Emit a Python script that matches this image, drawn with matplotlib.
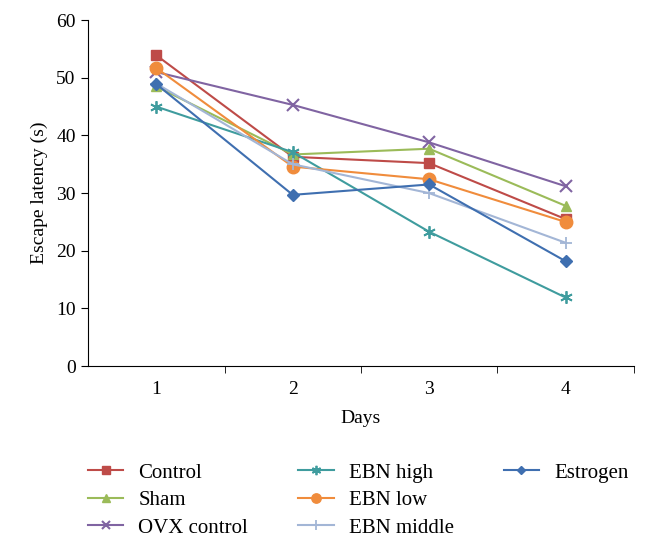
import matplotlib.pyplot as plt
from matplotlib.lines import Line2D

days = [1, 2, 3, 4]
series_names = ['Control', 'Sham', 'OVX control', 'EBN high', 'EBN low', 'EBN middle', 'Estrogen']
control = [53.9, 36.3, 35.2, 25.5]
sham = [48.5, 36.7, 37.7, 27.8]
ovx_control = [51.0, 45.3, 38.8, 31.2]
ebn_high = [45.0, 37.1, 23.3, 11.9]
ebn_low = [51.7, 34.6, 32.4, 25.0]
ebn_middle = [49.0, 35.0, 30.0, 21.4]
estrogen = [48.9, 29.7, 31.5, 18.2]

plt.rcParams['font.family'] = ['Liberation Serif', 'DejaVu Serif']

styles = [
    ('#BE4B48', 's', 7, 1),
    ('#9BBB59', '^', 7, 1),
    ('#8064A2', 'x', 8, 1.5),
    ('#3F9C9E', (6, 2, 0), 9, 1.3),
    ('#F08C3C', 'o', 9, 1),
    ('#A3B6D6', '+', 9, 1.3),
    ('#3F6FB0', 'D', 6, 1),
]
values = [control, sham, ovx_control, ebn_high, ebn_low, ebn_middle, estrogen]

fig = plt.figure(figsize=(6.48, 5.44), dpi=100)
ax = fig.add_axes([0.136, 0.327, 0.842, 0.636])

handles = []
for name, vals, (color, marker, ms, mew) in zip(series_names, values, styles):
    h, = ax.plot(days, vals, color=color, marker=marker, markersize=ms, markeredgewidth=mew,
                 linewidth=1.5, label=name)
    handles.append(h)

ax.set_xlim(0.5, 4.5)
ax.set_ylim(0, 60)
ax.set_yticks(range(0, 61, 10))
ax.set_xticks(days)
ax.set_xticks([1.5, 2.5, 3.5, 4.5], minor=True)
ax.tick_params(axis='x', which='major', length=0, pad=11, labelsize=14)
ax.tick_params(axis='x', which='minor', length=5, direction='out')
ax.tick_params(axis='y', length=5, direction='out', labelsize=14, pad=4)
ax.spines['top'].set_visible(False)
ax.spines['right'].set_visible(False)
ax.set_xlabel('Days', fontsize=14, labelpad=8)
ax.set_ylabel('Escape latency (s)', fontsize=14, labelpad=6)

# blank entry so the columns split 3-3-1 like the original
blank = Line2D([], [], linestyle='none', marker='none')
labels = series_names + ['']
fig.legend(handles + [blank], labels, loc='upper left', bbox_to_anchor=(0.123, 0.164), ncol=3,
           frameon=False, fontsize=15, handlelength=1.7, columnspacing=2.4, labelspacing=0.38,
           handletextpad=0.72, borderaxespad=0, markerscale=0.75)

fig.savefig('out.png', dpi=100)
